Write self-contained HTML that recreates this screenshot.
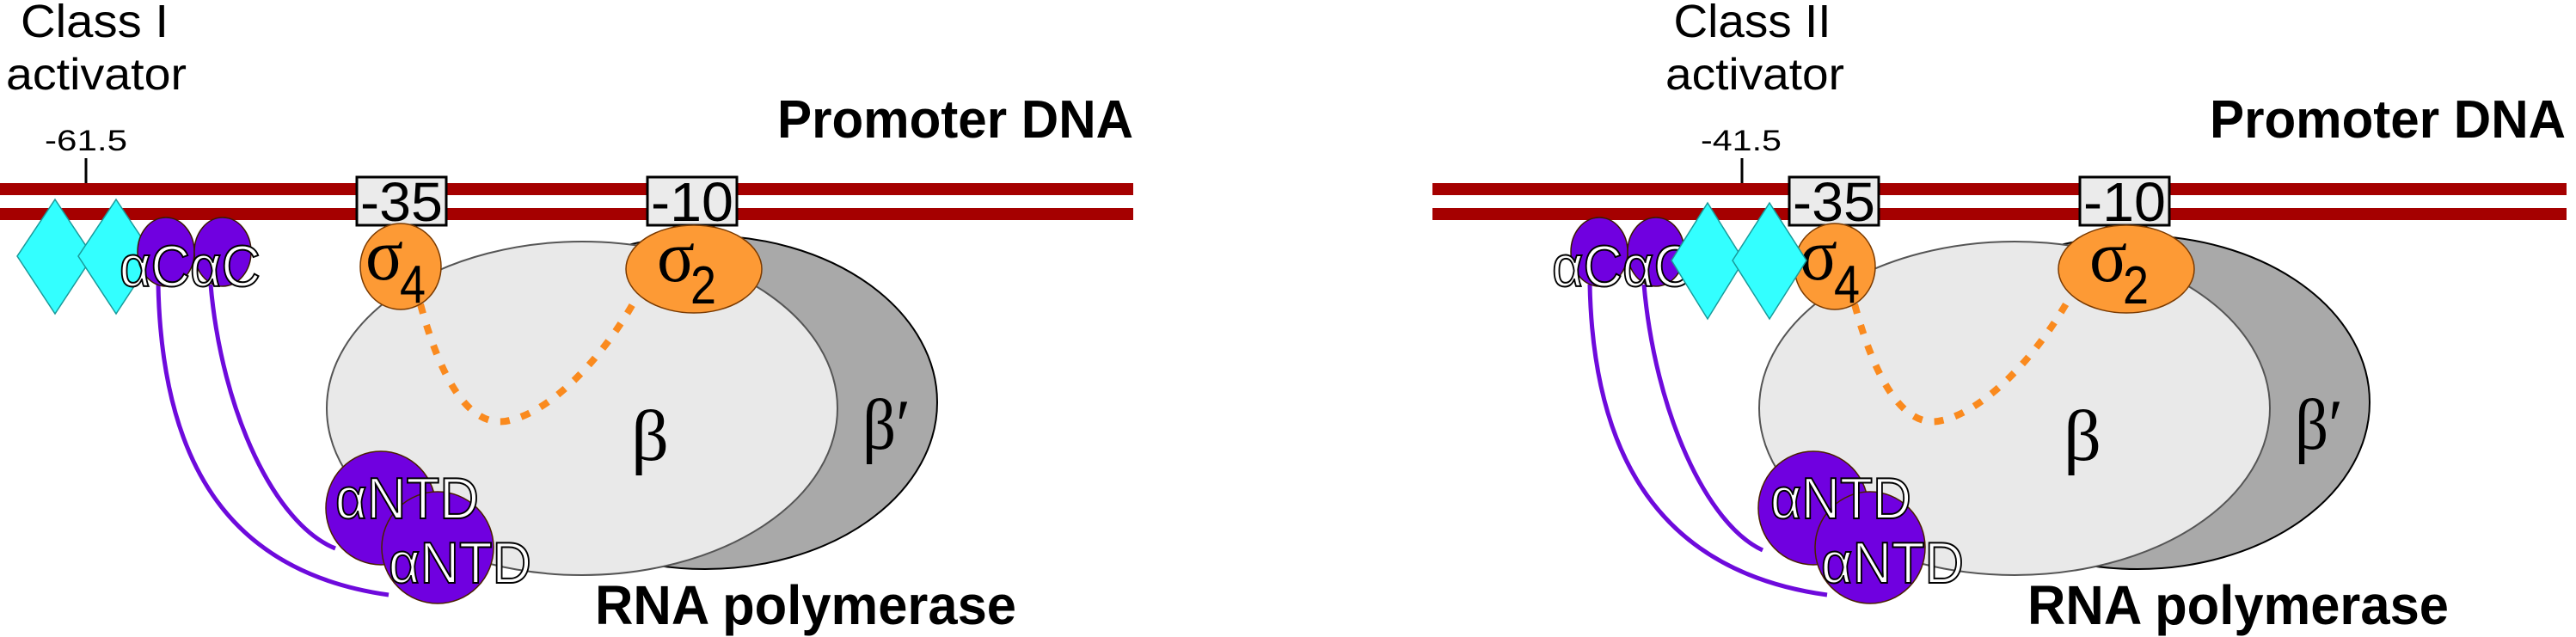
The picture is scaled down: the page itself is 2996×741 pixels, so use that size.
<!DOCTYPE html>
<html><head><meta charset="utf-8"><style>
html,body{margin:0;padding:0;background:#fff;}
svg{display:block;}
text{font-family:"Liberation Sans Narrow","Liberation Sans",sans-serif;}
.lab{fill:#fff;stroke:#000;stroke-width:2;font-size:68px;}
.gr{font-family:"Liberation Serif",serif;}
</style></head><body>
<svg width="2996" height="741" viewBox="0 0 2996 741" xmlns="http://www.w3.org/2000/svg">
<defs>
<g id="pol">
  <ellipse cx="820" cy="468" rx="270" ry="194" fill="#a9a9a9" stroke="#000" stroke-width="2"/>
  <ellipse cx="677" cy="475" rx="297" ry="194" fill="#e9e9e9" stroke="#555" stroke-width="2"/>
  <text x="734" y="535" font-size="84" class="gr" textLength="44" lengthAdjust="spacingAndGlyphs">β</text>
  <text x="1003" y="522" font-size="84" class="gr" textLength="56" lengthAdjust="spacingAndGlyphs">β′</text>
  <text x="904" y="160" font-size="62" font-weight="bold" textLength="414" lengthAdjust="spacingAndGlyphs">Promoter DNA</text>
  <text x="692" y="726" font-size="64" font-weight="bold" textLength="490" lengthAdjust="spacingAndGlyphs">RNA polymerase</text>
</g>
<g id="boxes">
  <rect x="415" y="206" width="104" height="56" fill="#ebebeb" stroke="#000" stroke-width="3"/>
  <text x="467" y="257" font-size="64" text-anchor="middle" textLength="96" lengthAdjust="spacingAndGlyphs">-35</text>
  <rect x="753" y="206" width="104" height="56" fill="#ebebeb" stroke="#000" stroke-width="3"/>
  <text x="805" y="257" font-size="64" text-anchor="middle" textLength="96" lengthAdjust="spacingAndGlyphs">-10</text>
</g>
<g id="sig">
  <ellipse cx="807" cy="313" rx="79" ry="51" fill="#fd9a35" stroke="#7a3a00" stroke-width="1.5"/>
  <text x="764" y="327" font-size="86" class="gr" textLength="44" lengthAdjust="spacingAndGlyphs">σ</text>
  <text x="803" y="353" font-size="62" textLength="30" lengthAdjust="spacingAndGlyphs">2</text>
</g>
</defs>

<!-- LEFT PANEL -->
<text x="110" y="43" font-size="54" text-anchor="middle" textLength="172" lengthAdjust="spacingAndGlyphs">Class I</text>
<text x="112" y="104" font-size="52" text-anchor="middle" textLength="210" lengthAdjust="spacingAndGlyphs">activator</text>
<text x="100" y="175" font-size="34" text-anchor="middle" textLength="96" lengthAdjust="spacingAndGlyphs">-61.5</text>
<line x1="100" y1="184" x2="100" y2="214" stroke="#000" stroke-width="3"/>
<use href="#pol"/>
<rect x="0" y="213" width="1318" height="14" fill="#a50000"/>
<rect x="0" y="242" width="1318" height="14" fill="#a50000"/>
<use href="#boxes"/>
<path d="M489,354 C515,450 550,500 593,489 C640,478 700,420 742,343" fill="none" stroke="#fa8a1e" stroke-width="8" stroke-dasharray="11,14"/>
<ellipse cx="466" cy="310" rx="47" ry="50" fill="#fd9a35" stroke="#7a3a00" stroke-width="1.5"/>
<text x="425" y="325" font-size="86" class="gr" textLength="44" lengthAdjust="spacingAndGlyphs">σ</text>
<text x="465" y="352" font-size="62" textLength="30" lengthAdjust="spacingAndGlyphs">4</text>
<use href="#sig"/>
<path d="M184,331 C188,530 260,665 452,692" fill="none" stroke="#6e0adc" stroke-width="5"/>
<path d="M245,331 C258,480 320,610 390,638" fill="none" stroke="#6e0adc" stroke-width="5"/>
<ellipse cx="443" cy="591" rx="64" ry="66" fill="#7000e0" stroke="#4a2000" stroke-width="1.5"/>
<ellipse cx="509" cy="637" rx="65" ry="65" fill="#7000e0" stroke="#4a2000" stroke-width="1.5"/>
<text class="lab" x="390" y="603" textLength="167" lengthAdjust="spacingAndGlyphs">αNTD</text>
<text class="lab" x="452" y="678" textLength="166" lengthAdjust="spacingAndGlyphs">αNTD</text>
<polygon points="64,232 108,298 64,365 20,298" fill="#3ff" stroke="#1a9a9a" stroke-width="1.5"/>
<polygon points="135,232 179,298 135,365 91,298" fill="#3ff" stroke="#1a9a9a" stroke-width="1.5"/>
<ellipse cx="193" cy="293" rx="33" ry="40" fill="#7000e0" stroke="#3a1a00" stroke-width="1.5"/>
<ellipse cx="259" cy="293" rx="33" ry="40" fill="#7000e0" stroke="#3a1a00" stroke-width="1.5"/>
<text class="lab" x="139" y="333" textLength="164" lengthAdjust="spacingAndGlyphs">αCαC</text>

<!-- RIGHT PANEL -->
<text x="2038" y="43" font-size="54" text-anchor="middle" textLength="183" lengthAdjust="spacingAndGlyphs">Class II</text>
<text x="2041" y="104" font-size="52" text-anchor="middle" textLength="208" lengthAdjust="spacingAndGlyphs">activator</text>
<text x="2025" y="175" font-size="34" text-anchor="middle" textLength="94" lengthAdjust="spacingAndGlyphs">-41.5</text>
<line x1="2026" y1="184" x2="2026" y2="214" stroke="#000" stroke-width="3"/>
<g transform="translate(1666,0)">
  <use href="#pol"/>
</g>
<rect x="1666" y="213" width="1319" height="14" fill="#a50000"/>
<rect x="1666" y="242" width="1319" height="14" fill="#a50000"/>
<g transform="translate(1666,0)">
  <use href="#boxes"/>
  <path d="M491,354 C517,450 552,500 593,489 C640,478 700,420 743,343" fill="none" stroke="#fa8a1e" stroke-width="8" stroke-dasharray="11,14"/>
  <use href="#sig"/>
</g>
<ellipse cx="2134" cy="310" rx="47" ry="50" fill="#fd9a35" stroke="#7a3a00" stroke-width="1.5"/>
<text x="2093" y="325" font-size="86" class="gr" textLength="44" lengthAdjust="spacingAndGlyphs">σ</text>
<text x="2133" y="352" font-size="62" textLength="30" lengthAdjust="spacingAndGlyphs">4</text>
<path d="M1849,331 C1853,530 1930,665 2125,692" fill="none" stroke="#6e0adc" stroke-width="5"/>
<path d="M1912,331 C1925,480 1985,610 2050,640" fill="none" stroke="#6e0adc" stroke-width="5"/>
<ellipse cx="2109" cy="591" rx="64" ry="66" fill="#7000e0" stroke="#4a2000" stroke-width="1.5"/>
<ellipse cx="2175" cy="637" rx="64" ry="65" fill="#7000e0" stroke="#4a2000" stroke-width="1.5"/>
<text class="lab" x="2059" y="603" textLength="164" lengthAdjust="spacingAndGlyphs">αNTD</text>
<text class="lab" x="2118" y="678" textLength="166" lengthAdjust="spacingAndGlyphs">αNTD</text>
<ellipse cx="1860" cy="293" rx="33" ry="40" fill="#7000e0" stroke="#3a1a00" stroke-width="1.5"/>
<ellipse cx="1926" cy="293" rx="33" ry="40" fill="#7000e0" stroke="#3a1a00" stroke-width="1.5"/>
<text class="lab" x="1805" y="333" textLength="164" lengthAdjust="spacingAndGlyphs">αCαC</text>
<polygon points="1986,236 2028,303 1986,371 1944,303" fill="#3ff" stroke="#1a9a9a" stroke-width="1.5"/>
<polygon points="2058,236 2101,303 2058,371 2015,303" fill="#3ff" stroke="#1a9a9a" stroke-width="1.5"/>
</svg>
</body></html>
